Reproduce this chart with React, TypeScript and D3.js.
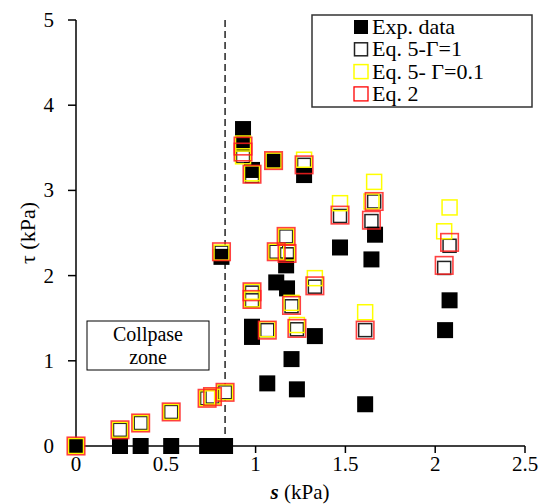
import React, { useEffect } from 'react'
import { scaleLinear } from 'd3'

// s (kPa), tau (kPa)
const expData: [number, number][] = [
  [0, 0], [0.245, 0], [0.36, 0], [0.53, 0], [0.73, 0], [0.78, 0], [0.83, 0],
  [0.81, 2.22], [0.93, 3.72], [0.93, 3.55], [0.98, 3.24], [1.1, 3.35], [1.27, 3.18],
  [0.98, 1.4], [0.98, 1.28], [1.065, 0.735], [1.115, 1.92], [1.17, 2.12], [1.175, 1.85],
  [1.2, 1.02], [1.23, 0.665], [1.33, 1.29], [1.47, 2.33], [1.61, 0.49], [1.645, 2.19],
  [1.665, 2.48], [2.055, 1.36], [2.08, 1.71]
]

const eq5G1: [number, number][] = [
  [0, 0], [0.245, 0.19], [0.36, 0.27], [0.53, 0.4], [0.73, 0.56], [0.76, 0.58], [0.83, 0.63],
  [0.81, 2.27], [0.93, 3.48], [0.93, 3.4], [0.98, 3.17], [1.1, 3.35], [1.27, 3.3],
  [0.98, 1.8], [0.98, 1.71], [1.065, 1.36], [1.115, 2.28], [1.17, 2.46], [1.175, 2.25],
  [1.2, 1.64], [1.23, 1.37], [1.33, 1.87], [1.47, 2.7], [1.61, 1.36], [1.66, 2.87],
  [1.645, 2.64], [2.05, 2.09], [2.08, 2.35]
]

const eq5G01: [number, number][] = [
  [0, 0], [0.245, 0.19], [0.36, 0.27], [0.53, 0.4], [0.73, 0.56], [0.76, 0.58], [0.83, 0.63],
  [0.81, 2.27], [0.93, 3.55], [0.93, 3.4], [0.98, 3.2], [1.1, 3.35], [1.27, 3.36],
  [0.98, 1.81], [0.98, 1.72], [1.065, 1.37], [1.115, 2.28], [1.17, 2.46], [1.175, 2.27],
  [1.2, 1.68], [1.23, 1.42], [1.33, 1.97], [1.47, 2.85], [1.61, 1.57], [1.66, 3.1],
  [1.645, 2.87], [2.05, 2.52], [2.08, 2.8]
]

const eq2: [number, number][] = [
  [0, 0], [0.245, 0.19], [0.36, 0.27], [0.53, 0.4], [0.73, 0.56], [0.76, 0.58], [0.83, 0.63],
  [0.81, 2.28], [0.93, 3.52], [0.93, 3.45], [0.98, 3.19], [1.1, 3.35], [1.27, 3.3],
  [0.98, 1.81], [0.98, 1.72], [1.065, 1.36], [1.115, 2.28], [1.17, 2.46], [1.175, 2.26],
  [1.2, 1.65], [1.23, 1.38], [1.33, 1.88], [1.47, 2.71], [1.61, 1.36], [1.66, 2.87],
  [1.645, 2.65], [2.05, 2.12], [2.08, 2.39]
]

const xTicks = [0, 0.5, 1, 1.5, 2, 2.5]
const yTicks = [0, 1, 2, 3, 4, 5]
const collapseLimit = 0.83
const legendLabels = ['Exp. data', 'Eq. 5-Γ=1', 'Eq. 5- Γ=0.1', 'Eq. 2']

const W = 539
const H = 504
const BASE = 24

// text drawn at 24px and scaled down to the wanted size
const T: React.FC<{ x: number; y: number; size: number; anchor?: string; rotate?: number; children: React.ReactNode }> = ({
  x, y, size, anchor = 'start', rotate = 0, children
}) => (
  <text
    transform={`translate(${x},${y}) rotate(${rotate}) scale(${size / BASE})`}
    fontSize={BASE}
    textAnchor={anchor}
    style={{ fontFamily: `'Liberation Serif'` }}
  >
    {children}
  </text>
)

export default function App() {
  useEffect(() => {
    document.body.style.margin = '0'
  }, [])

  const x = scaleLinear().domain([0, 2.5]).range([76, 525])
  const y = scaleLinear().domain([0, 5]).range([446, 20])

  const square = (d: [number, number], size: number, props: any, key: string) => (
    <rect key={key} x={x(d[0]) - size / 2} y={y(d[1]) - size / 2} width={size} height={size} {...props} />
  )

  const legendStyles = [
    { size: 14, fill: '#000', stroke: 'none' },
    { size: 13, fill: '#fff', stroke: '#222', strokeWidth: 1.5 },
    { size: 14, fill: 'none', stroke: '#ffff00', strokeWidth: 1.5 },
    { size: 14, fill: 'none', stroke: '#ff0000', strokeWidth: 1.3 }
  ]

  return (
    <svg width={W} height={H} style={{ display: 'block' }}>
      {/* collapse limit */}
      <line x1={x(collapseLimit)} x2={x(collapseLimit)} y1={y(5)} y2={y(0)} stroke="#000" strokeWidth={1.3} strokeDasharray="7,4" />

      {/* axes */}
      <line x1={x(0)} x2={x(0)} y1={y(5)} y2={y(0)} stroke="#000" strokeWidth={1.5} />
      <line x1={x(0)} x2={x(2.5)} y1={y(0)} y2={y(0)} stroke="#000" strokeWidth={1.5} />
      {yTicks.map((t) => (
        <g key={'y' + t}>
          <line x1={x(0) - 8} x2={x(0)} y1={y(t)} y2={y(t)} stroke="#000" strokeWidth={1.5} />
          <T x={54} y={y(t) + 7} size={21} anchor="end">{t}</T>
        </g>
      ))}
      {xTicks.map((t) => (
        <g key={'x' + t}>
          <line x1={x(t)} x2={x(t)} y1={y(0)} y2={y(0) + 7} stroke="#000" strokeWidth={1.5} />
          <T x={x(t)} y={471} size={21} anchor="middle">{t}</T>
        </g>
      ))}
      <T x={300} y={499} size={21} anchor="middle">
        <tspan fontWeight="bold" fontStyle="italic">s</tspan> (kPa)
      </T>
      <T x={35} y={233} size={22} anchor="middle" rotate={-90}>τ (kPa)</T>

      {/* collapse zone label */}
      <rect x={87} y={321} width={122} height={49} fill="#fff" stroke="#000" strokeWidth={1} />
      <T x={148} y={341} size={20} anchor="middle">Collpase</T>
      <T x={148} y={364} size={20} anchor="middle">zone</T>

      {/* series */}
      <g>{eq5G1.map((d, i) => square(d, 13, { fill: '#fff', stroke: '#222', strokeWidth: 1.5 }, 'g1' + i))}</g>
      <g>{expData.map((d, i) => square(d, 16, { fill: '#000' }, 'e' + i))}</g>
      <g>{eq5G01.map((d, i) => square(d, 15, { fill: 'none', stroke: '#ffff00', strokeWidth: 1.5 }, 'g01' + i))}</g>
      <g>{eq2.map((d, i) => square(d, 17.5, { fill: 'none', stroke: '#ff2020', strokeWidth: 1.6, strokeOpacity: 0.85 }, 'q2' + i))}</g>

      {/* legend */}
      <rect x={312} y={15} width={220} height={92} fill="#fff" stroke="#333" strokeWidth={1.5} />
      {legendLabels.map((l, i) => {
        const cy = 27 + i * 22.3
        const s = legendStyles[i]
        return (
          <g key={l}>
            <rect x={361 - s.size / 2} y={cy - s.size / 2} width={s.size} height={s.size} fill={s.fill} stroke={s.stroke} strokeWidth={s.strokeWidth} />
            <T x={372} y={cy + 7} size={22}>{l}</T>
          </g>
        )
      })}
    </svg>
  )
}
